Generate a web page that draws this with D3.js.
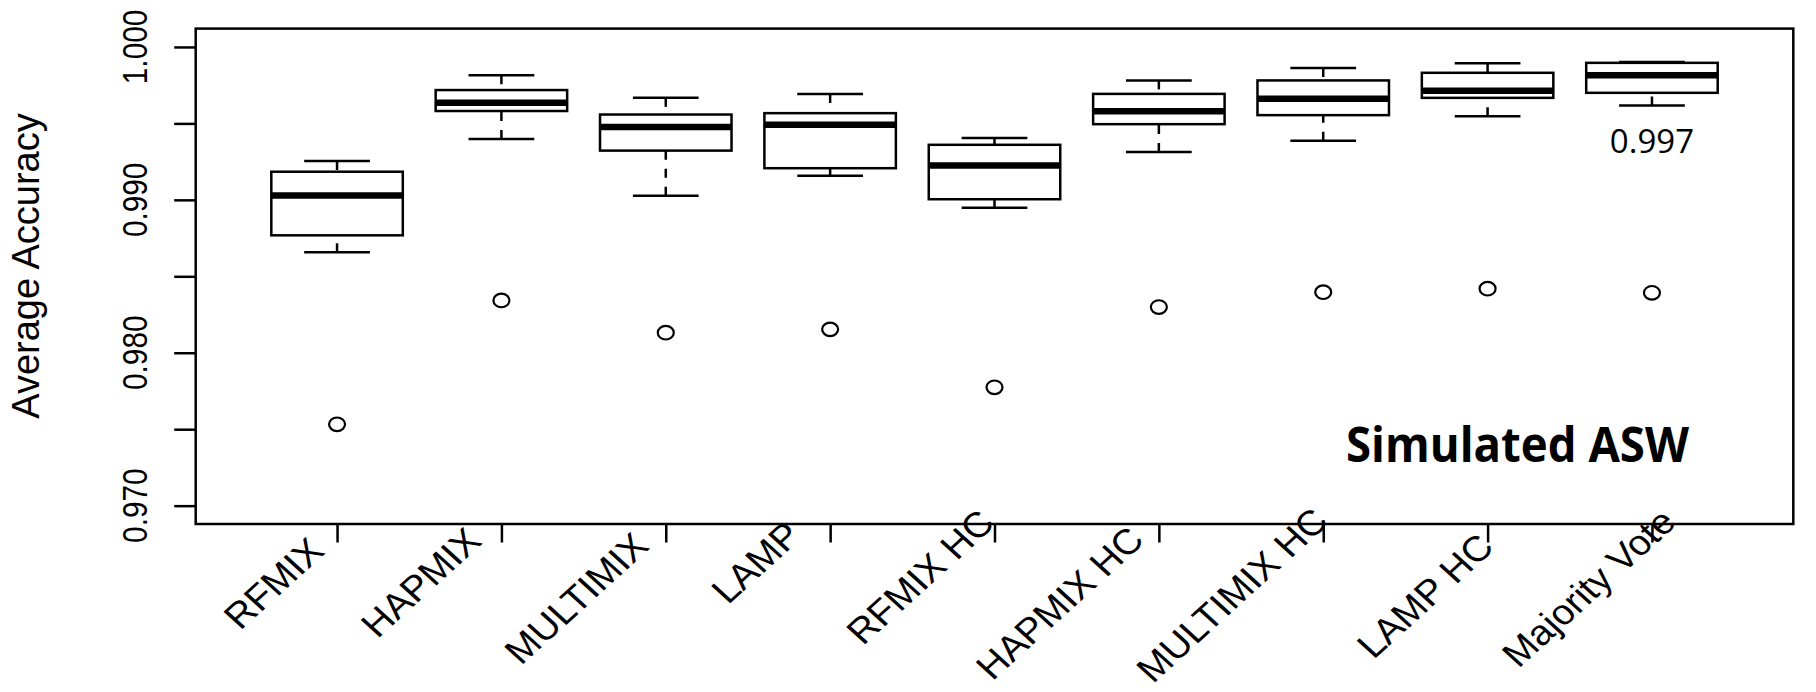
<!DOCTYPE html>
<html>
<head>
<meta charset="utf-8">
<script src="https://cdn.jsdelivr.net/npm/d3@7"></script>
<style>
  html, body { margin: 0; padding: 0; background: #ffffff; }
  svg { display: block; }
</style>
</head>
<body>
<svg id="chart" width="1816" height="692"></svg>
<script>
// Methods compared (one box per method)
const categories = ["RFMIX", "HAPMIX", "MULTIMIX", "LAMP", "RFMIX HC",
                    "HAPMIX HC", "MULTIMIX HC", "LAMP HC", "Majority Vote"];

// Five-number summaries of average accuracy per method
const whiskerLow  = [0.98657, 0.99398, 0.99027, 0.99158, 0.98948, 0.99313, 0.99387, 0.99547, 0.99617];
const quartile1   = [0.98768, 0.99581, 0.99322, 0.99207, 0.99004, 0.99495, 0.99554, 0.99667, 0.99700];
const medians     = [0.99029, 0.99635, 0.99477, 0.99491, 0.99225, 0.99579, 0.99662, 0.99714, 0.99815];
const quartile3   = [0.99184, 0.99718, 0.99558, 0.99567, 0.99360, 0.99693, 0.99781, 0.99831, 0.99896];
const whiskerHigh = [0.99254, 0.99815, 0.99667, 0.99693, 0.99405, 0.99781, 0.99862, 0.99894, 0.99901];
const outliers    = [0.97532, 0.98342, 0.98131, 0.98153, 0.97774, 0.98299, 0.98396, 0.98419, 0.98392];

// Axis ticks
const yTicks = [0.970, 0.975, 0.980, 0.985, 0.990, 0.995, 1.000];
const yTickLabels = ["0.970", "0.980", "0.990", "1.000"];

// Annotations
const noteValue = "0.997";
const panelTitle = "Simulated ASW";
const yTitle = "Average Accuracy";

// ---- layout ----
const svg = d3.select("#chart");
const frame = { left: 195.7, right: 1793.3, top: 28.6, bottom: 524 };
const hStretch = 1.17;          // horizontal stretch of the axis text
const lineW = 2.5;

// Positions 1..n with the usual 4% padding around [0.5, n + 0.5]
const n = categories.length;
const x = d3.scaleLinear().domain([0.14, n + 0.86]).range([frame.left, frame.right]);
const y = d3.scaleLinear().domain([0.9688, 1.0012]).range([frame.bottom, frame.top]);

const step = x(2) - x(1);
const boxW = 0.8 * step;
const stapleW = boxW / 2;

// y axis ticks
const yAxis = svg.append("g")
  .attr("transform", `translate(${frame.left},0)`)
  .call(d3.axisLeft(y).tickValues(yTicks).tickSize(21.5).tickFormat(""));
yAxis.select(".domain").remove();
yAxis.selectAll(".tick line").attr("stroke", "#000").attr("stroke-width", lineW);

// y tick labels (rotated, reading bottom to top)
svg.append("g").selectAll("text")
  .data(yTickLabels)
  .join("text")
  .attr("transform", d => `translate(146.7,${y(+d)}) scale(${hStretch},1) rotate(-90)`)
  .attr("text-anchor", "middle")
  .attr("font-family", "'Liberation Sans', Arial, sans-serif")
  .attr("font-size", 29.8)
  .attr("fill", "#000")
  .text(d => d);

// y axis title
svg.append("text")
  .attr("transform", `translate(39,266) scale(1.04,1) rotate(-90)`)
  .attr("text-anchor", "middle")
  .attr("font-family", "'Liberation Sans', Arial, sans-serif")
  .attr("font-size", 38)
  .attr("fill", "#000")
  .text(yTitle);

// x axis ticks
const xAxis = svg.append("g")
  .attr("transform", `translate(0,${frame.bottom})`)
  .call(d3.axisBottom(x).tickValues(d3.range(1, n + 1)).tickSize(18.5).tickFormat(""));
xAxis.select(".domain").remove();
xAxis.selectAll(".tick line").attr("stroke", "#000").attr("stroke-width", lineW);

// slanted category labels, ending near their ticks
const labelShift = [[-11, 29], [-18, 19], [-15, 24], [-27, 13], [2, 1],
                    [-13, 18], [7, -1], [8, 25], [26, 0]];
svg.append("g").selectAll("text")
  .data(categories)
  .join("text")
  .attr("transform", (d, i) =>
    `translate(${x(i + 1) + labelShift[i][0]},${frame.bottom + labelShift[i][1]}) scale(1.1,1) rotate(-45)`)
  .attr("text-anchor", "end")
  .attr("font-family", "'Liberation Sans', Arial, sans-serif")
  .attr("font-size", 35.5)
  .attr("fill", "#000")
  .text(d => d);

// ---- boxes ----
const boxes = svg.append("g").selectAll("g")
  .data(categories)
  .join("g")
  .attr("transform", (d, i) => `translate(${x(i + 1)},0)`);

// whiskers: drawn from the whisker end toward the box, dashed
boxes.append("line")
  .attr("x1", 0).attr("x2", 0)
  .attr("y1", (d, i) => y(whiskerHigh[i])).attr("y2", (d, i) => y(quartile3[i]))
  .attr("stroke", "#000").attr("stroke-width", lineW).attr("stroke-dasharray", "9,9");
boxes.append("line")
  .attr("x1", 0).attr("x2", 0)
  .attr("y1", (d, i) => y(whiskerLow[i])).attr("y2", (d, i) => y(quartile1[i]))
  .attr("stroke", "#000").attr("stroke-width", lineW).attr("stroke-dasharray", "9,9");

// staples
boxes.append("line")
  .attr("x1", -stapleW / 2).attr("x2", stapleW / 2)
  .attr("y1", (d, i) => y(whiskerHigh[i])).attr("y2", (d, i) => y(whiskerHigh[i]))
  .attr("stroke", "#000").attr("stroke-width", lineW);
boxes.append("line")
  .attr("x1", -stapleW / 2).attr("x2", stapleW / 2)
  .attr("y1", (d, i) => y(whiskerLow[i])).attr("y2", (d, i) => y(whiskerLow[i]))
  .attr("stroke", "#000").attr("stroke-width", lineW);

// interquartile box
boxes.append("rect")
  .attr("x", -boxW / 2).attr("width", boxW)
  .attr("y", (d, i) => y(quartile3[i]))
  .attr("height", (d, i) => y(quartile1[i]) - y(quartile3[i]))
  .attr("fill", "#fff").attr("stroke", "#000").attr("stroke-width", lineW);

// median
boxes.append("line")
  .attr("x1", -boxW / 2).attr("x2", boxW / 2)
  .attr("y1", (d, i) => y(medians[i])).attr("y2", (d, i) => y(medians[i]))
  .attr("stroke", "#000").attr("stroke-width", 6.5);

// outlying points
boxes.append("ellipse")
  .attr("cx", 0).attr("cy", (d, i) => y(outliers[i]))
  .attr("rx", 8).attr("ry", 6.8)
  .attr("fill", "none").attr("stroke", "#000").attr("stroke-width", 2.2);

// plot frame
svg.append("rect")
  .attr("x", frame.left).attr("y", frame.top)
  .attr("width", frame.right - frame.left).attr("height", frame.bottom - frame.top)
  .attr("fill", "none").attr("stroke", "#000").attr("stroke-width", 2.5);

// ---- annotations ----
const mvIndex = categories.indexOf("Majority Vote");
svg.append("text")
  .attr("x", x(mvIndex + 1)).attr("y", 153.3)
  .attr("text-anchor", "middle")
  .attr("font-family", "'Open Sans', 'Noto Sans', sans-serif")
  .attr("font-size", 33)
  .attr("fill", "#000")
  .text(noteValue);

const title = svg.append("text")
  .attr("transform", "translate(1517.5,461.7) scale(1,1.06)")
  .attr("text-anchor", "middle")
  .attr("font-family", "'Open Sans', 'Noto Sans', sans-serif")
  .attr("font-weight", "bold")
  .attr("font-size", 46)
  .attr("fill", "#000")
  .text(panelTitle);
// size the title to its intended width
const tw = title.node().getComputedTextLength();
if (tw > 0) title.attr("font-size", 46 * 343 / tw);
</script>
</body>
</html>
